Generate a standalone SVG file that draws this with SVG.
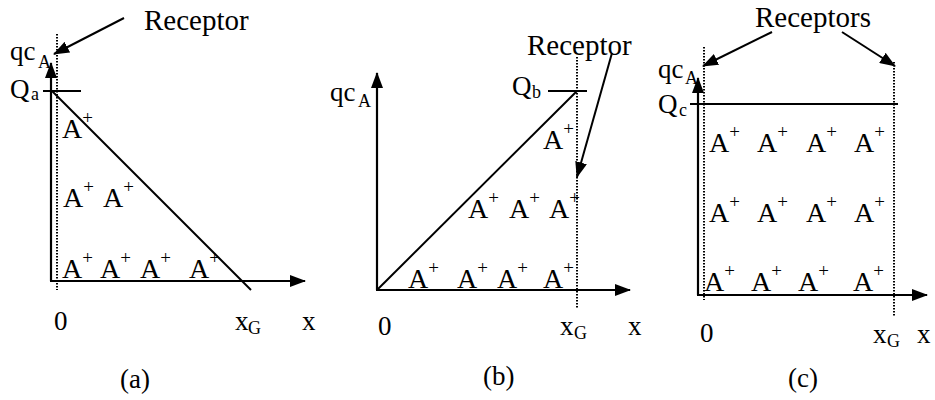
<svg xmlns="http://www.w3.org/2000/svg" width="935" height="400" viewBox="0 0 935 400">
<defs>
<marker id="ah" markerWidth="16" markerHeight="12" refX="15" refY="6" orient="auto" markerUnits="userSpaceOnUse">
<path d="M0,0 L16,6 L0,12 Z" fill="#000"/>
</marker>
<style>
text{font-family:"Liberation Serif","Times New Roman",serif;fill:#000;font-size:27px}
.sub{font-size:18px}
.a{font-size:28px}
.sup{font-size:19px}
.rc{font-size:29px}
.ax{stroke:#000;stroke-width:2.2;fill:none}
.ln{stroke:#000;stroke-width:2;fill:none}
.dot{stroke:#000;stroke-width:2;stroke-dasharray:1.5 1.5;fill:none}
</style>
</defs>
<rect width="935" height="400" fill="#fff"/>

<g id="connectors">
<!-- panel a -->
<line class="dot" x1="57" y1="34" x2="57" y2="290"/>
<line class="ax" x1="51" y1="281" x2="51" y2="63" marker-end="url(#ah)"/>
<line class="ax" x1="50" y1="281" x2="305" y2="281" marker-end="url(#ah)"/>
<line class="ln" x1="43" y1="91" x2="81" y2="91"/>
<line class="ln" x1="52" y1="91" x2="251" y2="290"/>
<line class="ln" x1="124" y1="18" x2="54" y2="54" marker-end="url(#ah)"/>
<!-- panel b -->
<line class="dot" x1="577" y1="57" x2="577" y2="308"/>
<line class="ax" x1="377" y1="290" x2="377" y2="73" marker-end="url(#ah)"/>
<line class="ax" x1="376" y1="290" x2="630" y2="290" marker-end="url(#ah)"/>
<line class="ln" x1="548" y1="91" x2="587" y2="91"/>
<line class="ln" x1="377" y1="290" x2="577" y2="91"/>
<line class="ln" x1="612" y1="53" x2="577" y2="177" marker-end="url(#ah)"/>
<!-- panel c -->
<line class="dot" x1="704" y1="47" x2="704" y2="300"/>
<line class="dot" x1="894" y1="62" x2="894" y2="316"/>
<line class="ax" x1="698" y1="295" x2="698" y2="78" marker-end="url(#ah)"/>
<line class="ax" x1="697" y1="295" x2="927" y2="295" marker-end="url(#ah)"/>
<line class="ln" x1="690" y1="104" x2="898" y2="104"/>
<line class="ln" x1="772" y1="32" x2="703" y2="66" marker-end="url(#ah)"/>
<line class="ln" x1="842" y1="32" x2="895" y2="66" marker-end="url(#ah)"/>
</g>

<g id="panel-a">
<text class="rc" x="144" y="30">Receptor</text>
<text x="10" y="60">qc</text><text class="sub" x="38" y="68">A</text>
<text x="10" y="98">Q</text><text class="sub" x="31" y="100">a</text>
<text x="54" y="330">0</text>
<text x="235" y="330">x</text><text class="sub" x="248" y="334">G</text>
<text x="302" y="330">x</text>
<text x="120" y="388">(a)</text>
<text class="a" x="62" y="138">A<tspan class="sup" dy="-14">+</tspan></text>
<text class="a" x="63" y="207">A<tspan class="sup" dy="-14">+</tspan></text>
<text class="a" x="103" y="207">A<tspan class="sup" dy="-14">+</tspan></text>
<text class="a" x="62" y="278">A<tspan class="sup" dy="-14">+</tspan></text>
<text class="a" x="100" y="278">A<tspan class="sup" dy="-14">+</tspan></text>
<text class="a" x="140" y="278">A<tspan class="sup" dy="-14">+</tspan></text>
<text class="a" x="189" y="278">A<tspan class="sup" dy="-14">+</tspan></text>
</g>

<g id="panel-b">
<text class="rc" x="527" y="55">Receptor</text>
<text x="330" y="101">qc</text><text class="sub" x="358" y="107">A</text>
<text x="512" y="95">Q</text><text class="sub" x="532" y="98">b</text>
<text x="378" y="335">0</text>
<text x="560" y="335">x</text><text class="sub" x="574" y="339">G</text>
<text x="628" y="335">x</text>
<text x="483" y="385">(b)</text>
<text class="a" x="543" y="149">A<tspan class="sup" dy="-14">+</tspan></text>
<text class="a" x="468" y="218">A<tspan class="sup" dy="-14">+</tspan></text>
<text class="a" x="509" y="218">A<tspan class="sup" dy="-14">+</tspan></text>
<text class="a" x="549" y="218">A<tspan class="sup" dy="-14">+</tspan></text>
<text class="a" x="408" y="288">A<tspan class="sup" dy="-14">+</tspan></text>
<text class="a" x="457" y="288">A<tspan class="sup" dy="-14">+</tspan></text>
<text class="a" x="497" y="288">A<tspan class="sup" dy="-14">+</tspan></text>
<text class="a" x="543" y="288">A<tspan class="sup" dy="-14">+</tspan></text>
</g>

<g id="panel-c">
<text class="rc" x="755" y="27">Receptors</text>
<text x="658" y="78">qc</text><text class="sub" x="685" y="84">A</text>
<text x="658" y="113">Q</text><text class="sub" x="679" y="116">c</text>
<text x="700" y="342">0</text>
<text x="873" y="343">x</text><text class="sub" x="887" y="347">G</text>
<text x="917" y="343">x</text>
<text x="788" y="387">(c)</text>
<text class="a" x="709" y="152">A<tspan class="sup" dy="-14">+</tspan></text>
<text class="a" x="757" y="152">A<tspan class="sup" dy="-14">+</tspan></text>
<text class="a" x="806" y="152">A<tspan class="sup" dy="-14">+</tspan></text>
<text class="a" x="854" y="152">A<tspan class="sup" dy="-14">+</tspan></text>
<text class="a" x="709" y="222">A<tspan class="sup" dy="-14">+</tspan></text>
<text class="a" x="757" y="222">A<tspan class="sup" dy="-14">+</tspan></text>
<text class="a" x="806" y="222">A<tspan class="sup" dy="-14">+</tspan></text>
<text class="a" x="854" y="222">A<tspan class="sup" dy="-14">+</tspan></text>
<text class="a" x="704" y="291">A<tspan class="sup" dy="-14">+</tspan></text>
<text class="a" x="751" y="291">A<tspan class="sup" dy="-14">+</tspan></text>
<text class="a" x="798" y="291">A<tspan class="sup" dy="-14">+</tspan></text>
<text class="a" x="853" y="291">A<tspan class="sup" dy="-14">+</tspan></text>
</g>
</svg>
